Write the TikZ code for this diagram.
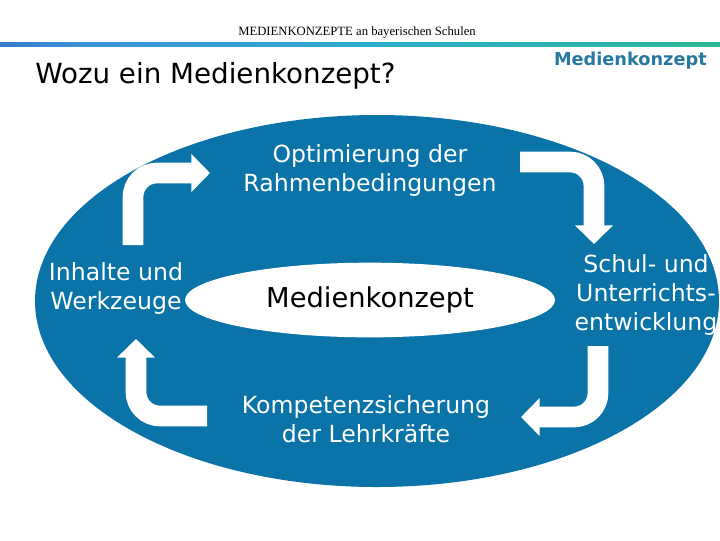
\documentclass[tikz,border=0pt]{standalone}
\usepackage{fontspec}
\setmainfont{DejaVu Sans}
\newfontfamily\headfont{Liberation Serif}
\usetikzlibrary{shapes.geometric,arrows.meta}
\definecolor{ovalblue}{RGB}{10,115,168}
\definecolor{brandblue}{RGB}{38,120,160}
\definecolor{barA}{RGB}{52,100,196}
\definecolor{barB}{RGB}{58,145,214}
\definecolor{barC}{RGB}{44,172,204}
\definecolor{barD}{RGB}{42,184,166}
\definecolor{barE}{RGB}{46,192,108}
\pgfdeclarehorizontalshading{barshade}{100bp}{color(0bp)=(barA); color(20bp)=(barA);
  color(30bp)=(barB); color(50bp)=(barC); color(70bp)=(barD); color(85bp)=(barE); color(100bp)=(barE)}
\begin{document}
\begin{tikzpicture}[x=0.75pt,y=-0.75pt,
    ovaltext/.style={text=white, align=center, inner sep=0pt,
      font=\fontsize{17.7pt}{21.75pt}\selectfont},
    bentarrow/.style={draw=white, line width=15.5pt, rounded corners=18pt,
      -{Triangle[width=27.75pt,length=14pt]}}]
  \useasboundingbox (0,0) rectangle (720,540);
  % header
  \node[anchor=base, inner sep=0pt, font=\headfont\fontsize{9.5pt}{11pt}\selectfont] (head) at (357,35) {MEDIENKONZEPTE an bayerischen Schulen};
  \shade[shading=barshade] (0,42.5) rectangle (720,46);
  \node[anchor=base west, inner sep=0pt, font=\fontsize{20.8pt}{24pt}\selectfont] (title) at (35,83) {Wozu ein Medienkonzept?};
  \node[anchor=base east, inner sep=0pt, text=brandblue, font=\bfseries\fontsize{13.3pt}{16pt}\selectfont] (brand) at (707,65) {Medienkonzept};
  % oval
  \fill[ovalblue] (377,301) ellipse [x radius=342, y radius=186];
  \node[ellipse, fill=white, minimum width=277.5pt, minimum height=56pt, inner sep=0pt,
    font=\fontsize{20.5pt}{24pt}\selectfont] (mk) at (370,300) {Medienkonzept};
  % texts
  \node[ovaltext] (opt) at (370,170) {Optimierung der\\Rahmenbedingungen};
  \node[ovaltext] (inh) at (116,288) {Inhalte und\\Werkzeuge};
  \node[ovaltext] (schul) at (646,295) {Schul- und\\Unterrichts-\\entwicklung};
  \node[ovaltext] (komp) at (366,419) {Kompetenzsicherung\\der Lehrkräfte};
  % arrows
  \coordinate (tl1) at (133,245);
  \coordinate (tl2) at (210,173);
  \coordinate (tr1) at (520,162);
  \coordinate (tr2) at (594,244);
  \coordinate (br1) at (598,346);
  \coordinate (br2) at (521,417);
  \coordinate (bl1) at (207,416);
  \coordinate (bl2) at (136,339);
  \draw[bentarrow] (tl1) |- (tl2);
  \draw[bentarrow] (tr1) -| (tr2);
  \draw[bentarrow] (br1) |- (br2);
  \draw[bentarrow] (bl1) -| (bl2);
\end{tikzpicture}
\end{document}
